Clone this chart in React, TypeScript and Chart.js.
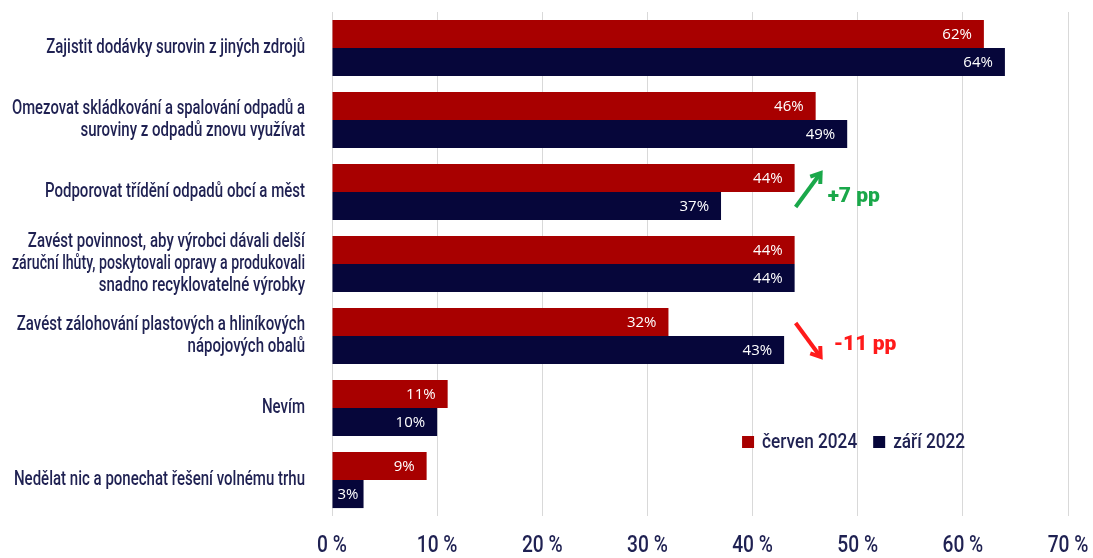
import React, { useEffect, useRef } from "react";
import { Chart, registerables } from "chart.js";

Chart.register(...registerables);

const categories: string[][] = [
  ["Zajistit dodávky surovin z jiných zdrojů"],
  ["Omezovat skládkování a spalování odpadů a", "suroviny z odpadů znovu využívat"],
  ["Podporovat třídění odpadů obcí a měst"],
  [
    "Zavést povinnost, aby výrobci dávali delší",
    "záruční lhůty, poskytovali opravy a produkovali",
    "snadno recyklovatelné výrobky",
  ],
  ["Zavést zálohování plastových a hliníkových", "nápojových obalů"],
  ["Nevím"],
  ["Nedělat nic a ponechat řešení volnému trhu"],
];

const series2024Label = "červen 2024";
const series2022Label = "září 2022";
const values2024 = [62, 46, 44, 44, 32, 11, 9];
const values2022 = [64, 49, 37, 44, 43, 10, 3];

const xTicks = [0, 10, 20, 30, 40, 50, 60, 70];

// change annotations: category index, value where the arrow starts, text
const changeNotes = [
  { index: 2, at: 44, text: "+7 pp", up: true },
  { index: 4, at: 44, text: "-11 pp", up: false },
];

const RED = "#a80000";
const NAVY = "#06063a";
const TEXT = "#1f2152";
const FONT = "Roboto, 'DejaVu Sans', sans-serif";
const VALUE_FONT = "'Open Sans', 'Noto Sans', sans-serif";

function condensed(
  ctx: CanvasRenderingContext2D,
  text: string,
  x: number,
  y: number,
  sx: number,
  align: CanvasTextAlign,
  maxWidth?: number
) {
  ctx.save();
  ctx.translate(x, y);
  ctx.scale(sx, 1);
  ctx.textAlign = align;
  if (maxWidth) ctx.fillText(text, 0, 0, maxWidth / sx);
  else ctx.fillText(text, 0, 0);
  ctx.restore();
}

export default function App() {
  const ref = useRef<HTMLCanvasElement | null>(null);

  useEffect(() => {
    document.body.style.margin = "0";
    const canvas = ref.current;
    if (!canvas) return;

    const axisLabels = {
      id: "axisLabels",
      afterDraw(chart: any) {
        const ctx = chart.ctx as CanvasRenderingContext2D;
        const xs = chart.scales.x;
        const ys = chart.scales.y;
        const area = chart.chartArea;
        ctx.save();
        ctx.fillStyle = TEXT;
        ctx.textBaseline = "middle";
        // category labels
        ctx.font = `500 21px ${FONT}`;
        const lh = 22;
        categories.forEach((lines, i) => {
          const cy = ys.getPixelForValue(i);
          const y0 = cy - ((lines.length - 1) * lh) / 2;
          lines.forEach((line, li) => {
            condensed(ctx, line, area.left - 27, y0 + li * lh, 0.715, "right", area.left - 39);
          });
        });
        // x tick labels
        ctx.font = `500 24px ${FONT}`;
        xTicks.forEach((v) => {
          condensed(ctx, v + " %", xs.getPixelForValue(v), area.bottom + 30, 0.8, "center");
        });
        ctx.restore();
      },
    };

    const valueLabels = {
      id: "valueLabels",
      afterDatasetsDraw(chart: any) {
        const ctx = chart.ctx;
        ctx.save();
        ctx.font = `15px ${VALUE_FONT}`;
        ctx.fillStyle = "#ffffff";
        ctx.textAlign = "right";
        ctx.textBaseline = "middle";
        chart.data.datasets.forEach((ds: any, di: number) => {
          const meta = chart.getDatasetMeta(di);
          meta.data.forEach((bar: any, i: number) => {
            const text = ds.data[i] + "%";
            const w = ctx.measureText(text).width;
            const x = Math.max(bar.x - 12, bar.base + 5 + w);
            ctx.fillText(text, x, bar.y + 1);
          });
        });
        ctx.restore();
      },
    };

    const legendAndNotes = {
      id: "legendAndNotes",
      afterDraw(chart: any) {
        const ctx = chart.ctx as CanvasRenderingContext2D;
        const xs = chart.scales.x;
        const ys = chart.scales.y;
        ctx.save();
        // legend
        const ly = (ys.getPixelForValue(5) + ys.getPixelForValue(6)) / 2 - 2;
        let lx = xs.getPixelForValue(39.0);
        const sx = 0.82;
        ctx.font = `500 21px ${FONT}`;
        ctx.textBaseline = "middle";
        [
          { label: series2024Label, color: RED },
          { label: series2022Label, color: NAVY },
        ].forEach((item) => {
          ctx.fillStyle = item.color;
          ctx.fillRect(lx, ly - 6, 12, 12);
          ctx.fillStyle = TEXT;
          condensed(ctx, item.label, lx + 20, ly + 1, sx, "left");
          lx += 20 + ctx.measureText(item.label).width * sx + 16;
        });

        // change notes
        changeNotes.forEach((n) => {
          const cy = ys.getPixelForValue(n.index);
          const x0 = xs.getPixelForValue(n.at) + 1;
          const color = n.up ? "#1aa84a" : "#ff1a1a";
          ctx.strokeStyle = color;
          ctx.fillStyle = color;
          ctx.lineWidth = 4;
          ctx.lineCap = "butt";
          const ax0 = x0, ay0 = n.up ? cy + 15 : cy - 13;
          const ax1 = x0 + 25, ay1 = n.up ? cy - 19 : cy + 21;
          ctx.beginPath();
          ctx.moveTo(ax0, ay0);
          ctx.lineTo(ax1, ay1);
          ctx.stroke();
          const ang = Math.atan2(ay1 - ay0, ax1 - ax0);
          const hl = 11;
          ctx.beginPath();
          ctx.moveTo(ax1 - hl * Math.cos(ang - 0.6), ay1 - hl * Math.sin(ang - 0.6));
          ctx.lineTo(ax1, ay1);
          ctx.lineTo(ax1 - hl * Math.cos(ang + 0.6), ay1 - hl * Math.sin(ang + 0.6));
          ctx.stroke();
          ctx.font = `900 21px ${FONT}`;
          ctx.textBaseline = "alphabetic";
          condensed(ctx, n.text, x0 + (n.up ? 32 : 38), n.up ? cy + 10 : cy + 14, 1.0, "left");
        });
        ctx.restore();
      },
    };

    const chart = new Chart(canvas, {
      type: "bar",
      data: {
        labels: categories.map((c) => c.join(" ")),
        datasets: [
          {
            label: series2024Label,
            data: values2024,
            backgroundColor: RED,
            categoryPercentage: 0.78,
            barPercentage: 1,
          },
          {
            label: series2022Label,
            data: values2022,
            backgroundColor: NAVY,
            categoryPercentage: 0.78,
            barPercentage: 1,
          },
        ],
      },
      options: {
        indexAxis: "y",
        animation: false,
        responsive: false,
        maintainAspectRatio: false,
        layout: { padding: { top: 12, right: 25, left: 0, bottom: 0 } },
        plugins: {
          legend: { display: false },
          tooltip: { enabled: false },
        },
        scales: {
          x: {
            min: 0,
            max: 70,
            afterBuildTicks(scale: any) {
              scale.ticks = xTicks.map((v) => ({ value: v }));
            },
            grid: { color: "#d9d9d9", drawTicks: false, lineWidth: 1 },
            border: { display: false },
            ticks: { display: false },
            afterFit(scale: any) {
              scale.height = 42;
            },
          },
          y: {
            grid: { display: false, drawTicks: false },
            border: { display: false },
            ticks: { display: false },
            afterFit(scale: any) {
              scale.width = 332;
            },
          },
        },
      },
      plugins: [valueLabels, axisLabels, legendAndNotes],
    } as any);

    return () => chart.destroy();
  }, []);

  return (
    <div style={{ width: 1093, height: 558 }}>
      <canvas ref={ref} width={1093} height={558} style={{ display: "block" }} />
    </div>
  );
}
